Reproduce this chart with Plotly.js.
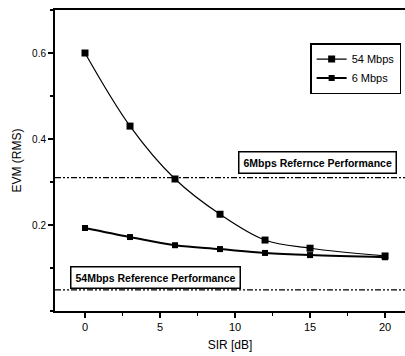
<!DOCTYPE html>
<html>
<head>
<meta charset="utf-8">
<script src="https://cdn.plot.ly/plotly-3.0.1.min.js"></script>
<style>html,body{margin:0;padding:0;background:#fff;}#chart{width:405px;height:356px;}</style>
</head>
<body>
<div id="chart"></div>
<script>
const sir = [0, 3, 6, 9, 12, 15, 20];
const evm54 = [0.600, 0.430, 0.307, 0.225, 0.165, 0.146, 0.128];
const evm6 = [0.193, 0.172, 0.153, 0.144, 0.135, 0.130, 0.125];
const seriesNames = ["54 Mbps", "6 Mbps"];
const refLevels = [0.31, 0.049];
const refLabels = ["6Mbps Refernce Performance", "54Mbps Reference Performance"];
const refLabelX = [15.5, 4.7];
const refLabelY = [0.346, 0.077];

const font = "Liberation Sans, Arial, sans-serif";

const traces = [
  {x: sir, y: evm54, name: seriesNames[0], mode: "lines+markers",
   line: {color: "#000", width: 1.2, shape: "spline"},
   marker: {symbol: "square", size: 7, color: "#000"}},
  {x: sir, y: evm6, name: seriesNames[1], mode: "lines+markers",
   line: {color: "#000", width: 2, shape: "spline"},
   marker: {symbol: "square", size: 6, color: "#000"}}
];

const shapes = refLevels.map(v => ({
  type: "line", xref: "paper", x0: 0, x1: 1, yref: "y", y0: v, y1: v,
  line: {color: "#000", width: 1.3, dash: "6px,2px,2px,2px,2px,2px"}
}));

const annotations = refLabels.map((t, i) => ({
  text: "<b>" + t + "</b>", x: refLabelX[i], y: refLabelY[i], xref: "x", yref: "y",
  showarrow: false, bordercolor: "#000", borderwidth: 1.5, borderpad: 4,
  bgcolor: "#fff", font: {family: font, size: 10.5, color: "#000"}
}));

const layout = {
  width: 405, height: 356,
  margin: {l: 55, r: 0, t: 10, b: 45},
  paper_bgcolor: "#fff", plot_bgcolor: "#fff",
  showlegend: true,
  legend: {x: 0.729, y: 0.89, xanchor: "left", yanchor: "top",
           bordercolor: "#000", borderwidth: 1.5, bgcolor: "#fff",
           font: {family: font, size: 11, color: "#000"},
           tracegroupgap: 0, itemwidth: 30},
  xaxis: {range: [-2, 21.33], tickvals: [0, 5, 10, 15, 20],
          ticks: "outside", ticklen: 5, tickwidth: 1.2, tickcolor: "#000",
          minor: {dtick: 2.5, tick0: 0, ticks: "outside", ticklen: 3, tickcolor: "#000"},
          showline: true, linecolor: "#000", linewidth: 2, mirror: true,
          showgrid: false, zeroline: false,
          tickfont: {family: font, size: 11, color: "#000"},
          title: {text: "SIR [dB]", font: {family: font, size: 12, color: "#000"}, standoff: 8}},
  yaxis: {range: [0, 0.7], tickvals: [0.2, 0.4, 0.6], ticktext: ["0.2", "0.4", "0.6"],
          ticks: "outside", ticklen: 5, tickwidth: 1.2, tickcolor: "#000",
          minor: {dtick: 0.1, tick0: 0, ticks: "outside", ticklen: 3, tickcolor: "#000"},
          showline: true, linecolor: "#000", linewidth: 2,
          showgrid: false, zeroline: false,
          tickfont: {family: font, size: 10, color: "#000"},
          title: {text: "EVM (RMS)", font: {family: font, size: 12, color: "#000"}, standoff: 8}},
  shapes: shapes,
  annotations: annotations
};

Plotly.newPlot("chart", traces, layout, {displayModeBar: false, staticPlot: true});
</script>
</body>
</html>
